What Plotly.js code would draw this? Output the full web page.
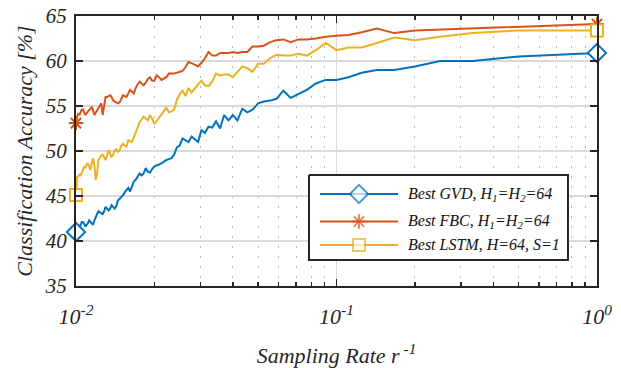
<!DOCTYPE html>
<html><head><meta charset="utf-8">
<script src="https://cdn.plot.ly/plotly-3.0.1.min.js"></script>
<style>html,body{margin:0;padding:0;background:#fff}#chart{width:621px;height:368px}</style>
</head><body><div id="chart"></div>
<script>
// sampling rate r^-1 = 1/k, k = 1..100
const rateDenominator = [1,2,3,4,5,6,7,8,9,10,11,12,13,14,15,16,17,18,19,20,
21,22,23,24,25,26,27,28,29,30,31,32,33,34,35,36,37,38,39,40,
41,42,43,44,45,46,47,48,49,50,51,52,53,54,55,56,57,58,59,60,
61,62,63,64,65,66,67,68,69,70,71,72,73,74,75,76,77,78,79,80,
81,82,83,84,85,86,87,88,89,90,91,92,93,94,95,96,97,98,99,100];
const gvdAcc = [
60.9,60.5,60.0,60.0,59.4,59.0,59.0,58.7,58.2,57.9,
57.9,57.5,56.8,56.3,55.9,56.7,55.8,55.6,55.5,55.3,
54.6,54.3,54.7,53.4,54.0,53.4,54.0,52.5,53.3,52.6,
52.7,52.0,52.3,51.0,51.3,51.6,51.0,51.2,51.4,50.6,
50.4,49.6,49.2,49.1,49.0,48.8,48.6,48.5,48.4,48.3,
48.0,47.6,47.7,48.1,47.5,47.3,47.5,47.1,46.8,46.6,
46.0,45.5,45.9,45.7,45.4,45.1,44.9,44.7,44.5,43.9,
43.6,43.8,44.0,43.6,43.4,43.6,43.8,43.3,43.0,43.1,
43.2,43.3,43.0,42.7,42.3,41.8,42.0,42.2,42.3,42.0,
41.8,41.6,41.9,42.1,42.1,41.8,41.5,41.7,41.3,41.0];
const fbcAcc = [
64.1,63.8,63.6,63.5,63.4,63.1,63.6,63.2,62.9,62.8,
62.7,62.5,62.4,62.4,62.1,62.4,62.3,62.1,61.7,61.6,
61.6,61.0,61.0,60.9,61.0,60.9,60.9,60.9,60.6,60.6,
61.0,60.3,59.8,59.4,59.6,59.8,59.9,59.3,58.9,58.8,
58.7,58.6,58.6,58.6,58.2,58.0,57.9,58.2,58.4,57.8,
57.8,58.2,58.0,57.6,57.3,57.5,57.7,57.4,57.0,56.4,
56.6,56.8,56.4,56.0,56.1,56.2,55.8,55.4,55.3,55.4,
55.5,55.6,56.0,56.2,56.1,56.0,56.0,55.0,54.0,55.3,
55.0,54.7,54.5,54.2,54.0,54.5,54.9,54.7,54.6,54.4,
54.2,54.0,54.3,54.6,54.6,54.3,54.0,54.2,53.8,53.1];
const lstmAcc = [
63.4,63.4,63.1,62.7,62.3,62.6,62.0,61.5,61.5,61.2,
62.0,61.2,60.6,60.8,60.6,60.6,60.7,60.3,59.7,59.7,
58.8,59.2,59.4,58.8,58.2,58.5,58.5,58.4,58.6,57.7,
57.2,57.3,57.8,57.4,56.9,56.5,57.0,56.1,56.7,56.3,
55.7,54.6,54.4,54.3,54.8,54.4,54.1,53.7,53.3,53.0,
53.6,54.0,53.4,53.6,53.8,53.5,53.2,52.6,52.0,51.6,
51.0,51.1,51.2,50.5,50.6,50.8,50.6,50.1,49.9,50.2,
50.1,49.6,49.3,49.7,50.1,49.5,49.0,49.3,49.6,49.5,
49.2,49.0,47.5,46.8,48.4,49.2,48.7,47.9,48.3,48.6,
48.5,48.1,48.3,47.8,47.6,47.3,47.4,47.2,47.1,45.1];
const seriesNames = ['Best GVD, H<sub>1</sub>=H<sub>2</sub>=64',
                     'Best FBC, H<sub>1</sub>=H<sub>2</sub>=64',
                     'Best LSTM, H=64, S=1'];
const xTickVals = [0.01, 0.1, 1];
const xTickText = ['10<sup>-2</sup>', '10<sup>-1</sup>', '10<sup>0</sup>'];
const xMinorTicks = [0.02,0.03,0.04,0.05,0.06,0.07,0.08,0.09,0.2,0.3,0.4,0.5,0.6,0.7,0.8,0.9];
const yTickVals = [35, 40, 45, 50, 55, 60, 65];

const FONT = '"Liberation Serif", "Times New Roman", Times, serif';
const rate = rateDenominator.map(k => 1 / k);
const colors = ['#0072BD', '#D95319', '#EDB120'];
const symbols = ['diamond', 'asterisk-open', 'square'];
const sizes = [14, 12, 12];
const allSeries = [gvdAcc, fbcAcc, lstmAcc];

const traces = [];
allSeries.forEach((vals, i) => {
  const mk = {symbol: symbols[i], size: sizes[i], color: i === 1 ? colors[i] : 'white',
              line: {color: colors[i], width: 2}};
  traces.push({x: rate, y: vals, mode: 'lines', line: {color: colors[i], width: 2},
               showlegend: false, hoverinfo: 'skip'});
  traces.push({x: [rate[0], rate[rate.length - 1]], y: [vals[0], vals[vals.length - 1]],
               mode: 'markers', marker: mk, cliponaxis: false, showlegend: false});
});

// hand-built legend on an overlay axis (0..1 over plot area)
const legBox = {x0: 0.4472, x1: 0.9443, y0: 0.0963, y1: 0.4111};
const legRows = [0.3407, 0.2389, 0.1519];
const legLine = [0.4683, 0.6180];
const legText = 0.6330;
traces.push({x: [legBox.x0, legBox.x1, legBox.x1, legBox.x0, legBox.x0],
             y: [legBox.y1, legBox.y1, legBox.y0, legBox.y0, legBox.y1],
             xaxis: 'x2', yaxis: 'y2', mode: 'lines', fill: 'toself', fillcolor: 'white',
             line: {color: '#262626', width: 2}, showlegend: false, hoverinfo: 'skip'});
const annotations = [];
allSeries.forEach((vals, i) => {
  const mid = (legLine[0] + legLine[1]) / 2;
  traces.push({x: [legLine[0], mid, legLine[1]], y: [legRows[i], legRows[i], legRows[i]],
               xaxis: 'x2', yaxis: 'y2', mode: 'lines+markers',
               line: {color: colors[i], width: 2},
               marker: {symbol: symbols[i], size: [0, sizes[i], 0], color: i === 1 ? colors[i] : 'white',
                        line: {color: colors[i], width: 2}},
               showlegend: false, hoverinfo: 'skip'});
  annotations.push({xref: 'paper', yref: 'paper', x: legText, y: legRows[i], xanchor: 'left', yanchor: 'middle',
                    text: seriesNames[i], showarrow: false,
                    font: {family: FONT, size: 16, style: 'italic', color: '#111'}});
});

const axisCommon = {
  showline: true, linecolor: '#262626', linewidth: 2, mirror: 'allticks',
  ticks: 'inside', ticklen: 7, tickwidth: 1.5, tickcolor: '#262626',
  showgrid: true, gridcolor: '#d9d9d9', gridwidth: 1.2, zeroline: false,
};

const layout = {
  width: 621, height: 368,
  margin: {l: 76, r: 24, t: 16, b: 82},
  paper_bgcolor: 'white', plot_bgcolor: 'white',
  font: {family: FONT, color: '#262626'},
  showlegend: false,
  xaxis: Object.assign({}, axisCommon, {
    type: 'log', range: [-2, 0], tickmode: 'array', tickvals: xTickVals, ticktext: xTickText,
    ticklabelstandoff: 10,
    tickfont: {size: 22, style: 'italic', family: FONT, color: '#262626'},
    minor: {tickmode: 'array', tickvals: xMinorTicks, ticks: 'inside', ticklen: 4,
            tickcolor: '#262626', showgrid: true, griddash: '2px,8px', gridcolor: '#b5b5b5', gridwidth: 1},
    title: {text: 'Sampling Rate r<sup> -1</sup>', font: {size: 22, style: 'italic', family: FONT}, standoff: 20}
  }),
  yaxis: Object.assign({}, axisCommon, {
    range: [35, 65], tickmode: 'array', tickvals: yTickVals,
    ticklabelstandoff: 3,
    tickfont: {size: 21, style: 'italic', family: FONT, color: '#262626'},
    title: {text: 'Classification Accuracy [%]', font: {size: 22, style: 'italic', family: FONT}, standoff: 6}
  }),
  xaxis2: {overlaying: 'x', anchor: 'y2', range: [0, 1], visible: false, fixedrange: true},
  yaxis2: {overlaying: 'y', anchor: 'x2', range: [0, 1], visible: false, fixedrange: true},
  annotations: annotations
};

Plotly.newPlot('chart', traces, layout, {staticPlot: true, displayModeBar: false});
</script>
</body></html>
